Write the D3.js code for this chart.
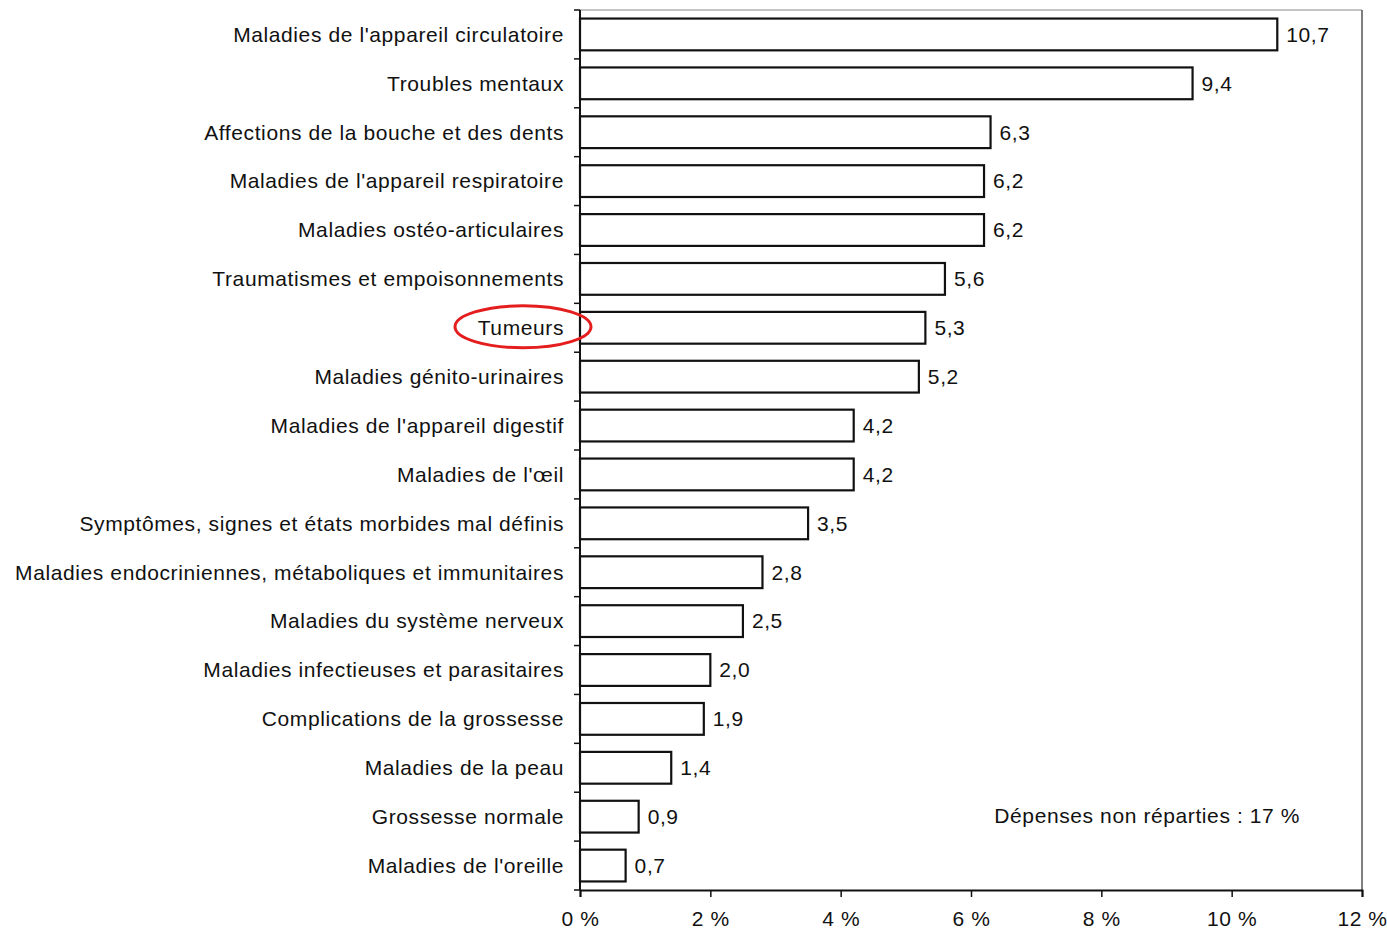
<!DOCTYPE html>
<html>
<head>
<meta charset="utf-8">
<script src="https://cdn.jsdelivr.net/npm/d3@7"></script>
<style>
  html, body { margin: 0; padding: 0; background: #fff; }
  svg text { font-family: "Liberation Sans", Arial, sans-serif; fill: #111; letter-spacing: 0.6px; }
</style>
</head>
<body>
<svg id="chart" width="1387" height="931"></svg>
<script>
// Part des dépenses par groupe de pathologies (%)
const categories = [
  "Maladies de l'appareil circulatoire",
  "Troubles mentaux",
  "Affections de la bouche et des dents",
  "Maladies de l'appareil respiratoire",
  "Maladies ostéo-articulaires",
  "Traumatismes et empoisonnements",
  "Tumeurs",
  "Maladies génito-urinaires",
  "Maladies de l'appareil digestif",
  "Maladies de l'œil",
  "Symptômes, signes et états morbides mal définis",
  "Maladies endocriniennes, métaboliques et immunitaires",
  "Maladies du système nerveux",
  "Maladies infectieuses et parasitaires",
  "Complications de la grossesse",
  "Maladies de la peau",
  "Grossesse normale",
  "Maladies de l'oreille"
];
const values = [10.7, 9.4, 6.3, 6.2, 6.2, 5.6, 5.3, 5.2, 4.2, 4.2, 3.5, 2.8, 2.5, 2.0, 1.9, 1.4, 0.9, 0.7];
const xTicks = [0, 2, 4, 6, 8, 10, 12];
const highlighted = "Tumeurs";
const note = "Dépenses non réparties : 17 %";

const margin = { top: 10, right: 25, bottom: 41, left: 580 };
const width = 1387, height = 931;
const fontSize = 21;
const svg = d3.select("#chart");

const x = d3.scaleLinear().domain([0, 12]).range([margin.left, width - margin.right]);
const y = d3.scaleBand().domain(categories)
  .range([margin.top, height - margin.bottom])
  .paddingInner(0.35).paddingOuter(0.175);
const yb = d3.scaleBand().domain(categories).range([margin.top, height - margin.bottom]);

const fmt = v => d3.format(".1f")(v).replace(".", ",");

// frame: top and right edges
svg.append("line")
  .attr("x1", x(0)).attr("x2", x(12))
  .attr("y1", margin.top).attr("y2", margin.top)
  .attr("stroke", "#888").attr("stroke-width", 1);
svg.append("line")
  .attr("x1", x(12)).attr("x2", x(12))
  .attr("y1", margin.top).attr("y2", height - margin.bottom)
  .attr("stroke", "#555").attr("stroke-width", 1.5);

// bars
svg.append("g").selectAll("rect")
  .data(values)
  .join("rect")
  .attr("x", x(0))
  .attr("y", (d, i) => y(categories[i]))
  .attr("width", d => x(d) - x(0))
  .attr("height", y.bandwidth())
  .attr("fill", "#fff")
  .attr("stroke", "#111")
  .attr("stroke-width", 2.2);

// value labels
svg.append("g").selectAll("text")
  .data(values)
  .join("text")
  .attr("x", d => x(d) + 9)
  .attr("y", (d, i) => y(categories[i]) + y.bandwidth() / 2)
  .attr("dy", "0.35em")
  .attr("font-size", fontSize)
  .text(d => fmt(d));

// category axis: ticks at band boundaries
const yAxisG = svg.append("g");
yAxisG.append("line")
  .attr("x1", x(0)).attr("x2", x(0))
  .attr("y1", margin.top).attr("y2", height - margin.bottom)
  .attr("stroke", "#111").attr("stroke-width", 2);
const boundaries = categories.map(c => yb(c)).concat([height - margin.bottom]);
yAxisG.selectAll("line.tick")
  .data(boundaries)
  .join("line")
  .attr("class", "tick")
  .attr("x1", x(0) - 6).attr("x2", x(0))
  .attr("y1", d => d).attr("y2", d => d)
  .attr("stroke", "#111").attr("stroke-width", 1.5);
yAxisG.selectAll("text")
  .data(categories)
  .join("text")
  .attr("x", x(0) - 16)
  .attr("y", d => yb(d) + yb.bandwidth() / 2)
  .attr("dy", "0.35em")
  .attr("text-anchor", "end")
  .attr("font-size", fontSize)
  .text(d => d);

// value axis
const xAxis = d3.axisBottom(x)
  .tickValues(xTicks)
  .tickSize(7)
  .tickPadding(14)
  .tickFormat(d => d + " %");
const xAxisG = svg.append("g")
  .attr("transform", `translate(0,${height - margin.bottom})`)
  .call(xAxis);
xAxisG.select(".domain").attr("stroke", "#111").attr("stroke-width", 2);
xAxisG.selectAll(".tick line").attr("stroke", "#111").attr("stroke-width", 1.5);
xAxisG.selectAll(".tick text")
  .attr("font-size", fontSize)
  .attr("font-family", "'Liberation Sans', Arial, sans-serif")
  .attr("fill", "#111");

// note
svg.append("text")
  .attr("x", x(11.05))
  .attr("y", y(categories[16]) + y.bandwidth() / 2 - 1)
  .attr("dy", "0.35em")
  .attr("text-anchor", "end")
  .attr("font-size", fontSize)
  .text(note);

// red ellipse around the highlighted category
svg.append("ellipse")
  .attr("cx", 523)
  .attr("cy", yb(highlighted) + yb.bandwidth() / 2 - 1)
  .attr("rx", 68)
  .attr("ry", 21)
  .attr("fill", "none")
  .attr("stroke", "#e41e1e")
  .attr("stroke-width", 3);
</script>
</body>
</html>
